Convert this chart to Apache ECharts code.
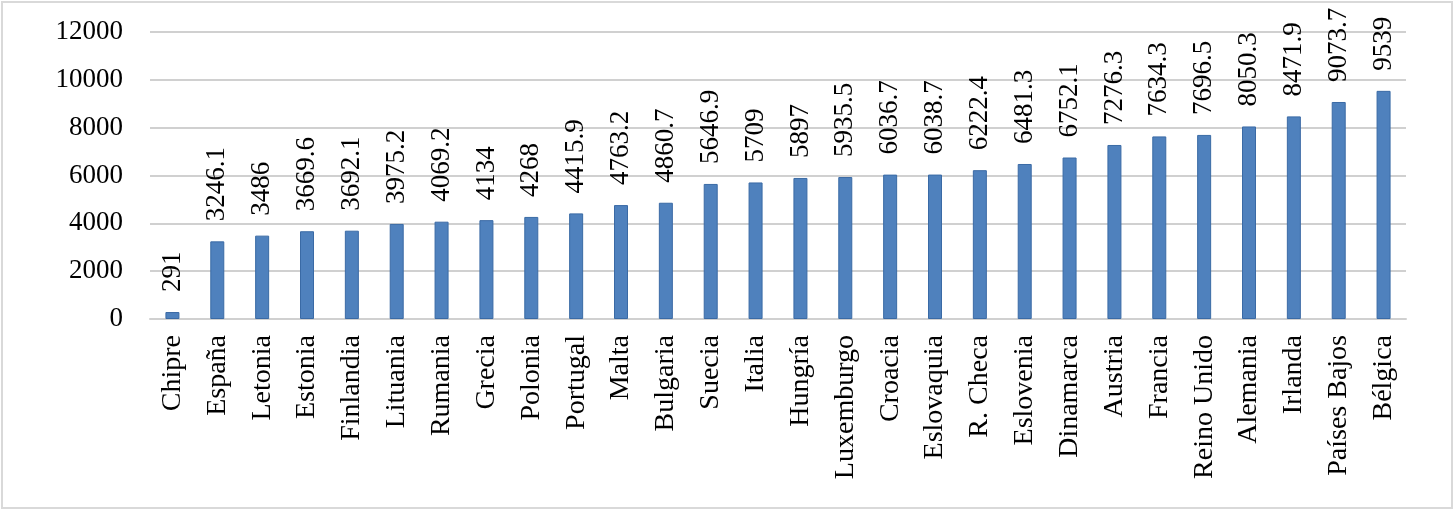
<!DOCTYPE html>
<html>
<head>
<meta charset="utf-8">
<script src="https://cdn.jsdelivr.net/npm/echarts@6/dist/echarts.min.js"></script>
<style>
html,body{margin:0;padding:0;background:#fff;}
#c{width:1456px;height:512px;}
</style>
</head>
<body>
<div id="c"></div>
<script>
const categories = ["Chipre","España","Letonia","Estonia","Finlandia","Lituania","Rumania","Grecia","Polonia","Portugal","Malta","Bulgaria","Suecia","Italia","Hungría","Luxemburgo","Croacia","Eslovaquia","R. Checa","Eslovenia","Dinamarca","Austria","Francia","Reino Unido","Alemania","Irlanda","Países Bajos","Bélgica"];
const values = [291,3246.1,3486,3669.6,3692.1,3975.2,4069.2,4134,4268,4415.9,4763.2,4860.7,5646.9,5709,5897,5935.5,6036.7,6038.7,6222.4,6481.3,6752.1,7276.3,7634.3,7696.5,8050.3,8471.9,9073.7,9539];
const yMin = 0, yMax = 12000, yStep = 2000;

const chart = echarts.init(document.getElementById('c'), null, {renderer:'canvas'});
const font = '"Liberation Serif","Times New Roman",serif';
chart.setOption({
  animation:false,
  backgroundColor:'#fff',
  textStyle:{fontFamily:font},
  graphic:[{type:'rect',shape:{x:2,y:2,width:1450,height:506},style:{fill:'none',stroke:'#d9d9d9',lineWidth:2},silent:true}],
  grid:{left:150,right:50,top:32,bottom:193,containLabel:false},
  xAxis:{
    type:'category',data:categories,
    axisLine:{show:true,lineStyle:{color:'#d0d0d0',width:2}},
    axisTick:{show:false},
    axisLabel:{rotate:90,interval:0,margin:16,color:'#000',fontSize:28,fontFamily:font}
  },
  yAxis:{
    type:'value',min:yMin,max:yMax,interval:yStep,
    axisLine:{show:false},axisTick:{show:false},
    splitLine:{lineStyle:{color:'#d0d0d0',width:2}},
    axisLabel:{margin:27,color:'#000',fontSize:27,fontFamily:font,formatter:v=>String(v)}
  },
  series:[{
    type:'bar',data:values,barWidth:14,
    itemStyle:{color:'#4f81bd',borderColor:'#3a6aa5',borderWidth:1},
    label:{show:true,position:'top',rotate:90,align:'left',verticalAlign:'middle',distance:20,color:'#000',fontSize:27,fontFamily:font,formatter:'{c}'}
  }]
});
</script>
</body>
</html>
